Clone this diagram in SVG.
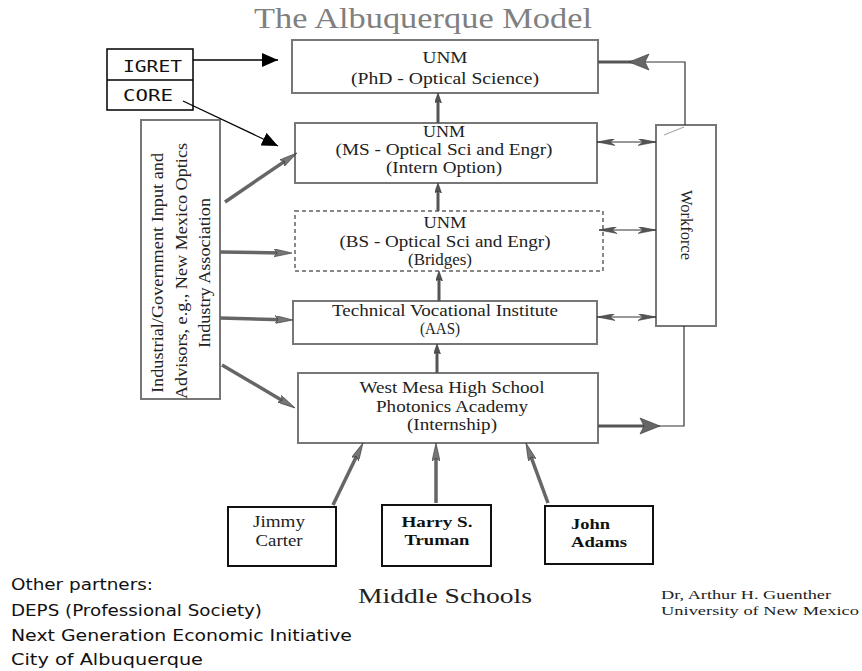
<svg xmlns="http://www.w3.org/2000/svg" width="862" height="671" viewBox="0 0 862 671">
<style>
.bx{fill:#fff;stroke:#777;stroke-width:2}
.ms{fill:#fff;stroke:#111;stroke-width:2}
.t{font-family:"Liberation Serif","Times New Roman",serif;font-size:16px;fill:#222;text-anchor:middle}
.tb{font-family:"Liberation Serif","Times New Roman",serif;font-size:15px;font-weight:bold;fill:#111}
.sans{font-family:"DejaVu Sans","Liberation Sans",sans-serif;font-size:15px;fill:#111}
.mono{font-family:"DejaVu Sans Mono","Liberation Mono",monospace;font-size:15px;fill:#111}
.blk{stroke:#666;stroke-width:3.5;fill:none}
.vt{stroke:#555;stroke-width:3;fill:none}
.dbl{stroke:#333;stroke-width:1;fill:none}
.thin{stroke:#333;stroke-width:1.2;fill:none}
.thk{stroke:#555;stroke-width:3;fill:none}
.au{font-family:"Liberation Serif","Times New Roman",serif;font-size:13.5px;fill:#222}
</style>
<defs>
<marker id="blkh" markerUnits="userSpaceOnUse" viewBox="0 0 18 8" markerWidth="18" markerHeight="8" refX="8" refY="4" orient="auto">
<path d="M0,0 L18,4 L0,8 L3,4 z" fill="#777" stroke="#333" stroke-width="0.6"/>
</marker>
<marker id="vh" markerUnits="userSpaceOnUse" viewBox="0 0 10 7" markerWidth="10" markerHeight="7" refX="4" refY="3.5" orient="auto">
<path d="M0,0 L10,3.5 L0,7 L2,3.5 z" fill="#555" stroke="#222" stroke-width="0.5"/>
</marker>
<marker id="barb" markerUnits="userSpaceOnUse" viewBox="0 0 18 7" markerWidth="18" markerHeight="7" refX="18" refY="3.5" orient="auto-start-reverse">
<path d="M0,0 L18,3.5 L0,7 L5,3.5 z" fill="#555" stroke="#333" stroke-width="0.5"/>
</marker>
<marker id="bh" markerUnits="userSpaceOnUse" viewBox="0 0 16 14" markerWidth="16" markerHeight="14" refX="16" refY="7" orient="auto">
<path d="M0,0 L16,7 L0,14 z" fill="#000"/>
</marker>
</defs>

<text x="423" y="28" font-family="Liberation Serif,Times New Roman,serif" font-size="29" fill="#808080" text-anchor="middle" textLength="338" lengthAdjust="spacingAndGlyphs">The Albuquerque Model</text>

<g id="igret-core">
<rect x="107" y="49" width="86" height="61" fill="#fff" stroke="#000" stroke-width="1.5"/>
<line x1="107" y1="80" x2="193" y2="80" stroke="#000" stroke-width="1.5"/>
<text class="mono" x="123" y="72" textLength="59" lengthAdjust="spacingAndGlyphs">IGRET</text>
<text class="mono" x="123" y="101" textLength="50" lengthAdjust="spacingAndGlyphs">CORE</text>
</g>

<g id="phd">
<rect class="bx" x="292" y="40" width="306" height="53"/>
<text class="t" x="445" y="63" textLength="45" lengthAdjust="spacingAndGlyphs">UNM</text>
<text class="t" x="445" y="84" textLength="188" lengthAdjust="spacingAndGlyphs">(PhD - Optical Science)</text>
</g>

<g id="ms">
<rect class="bx" x="295" y="123" width="302" height="60"/>
<text class="t" x="444" y="137" textLength="42" lengthAdjust="spacingAndGlyphs">UNM</text>
<text class="t" x="444" y="155" textLength="217" lengthAdjust="spacingAndGlyphs">(MS - Optical Sci and Engr)</text>
<text class="t" x="444" y="173" textLength="116" lengthAdjust="spacingAndGlyphs">(Intern Option)</text>
</g>

<g id="bs">
<rect x="295" y="211" width="308" height="60" fill="#fff" stroke="#888" stroke-width="2" stroke-dasharray="4,3"/>
<text class="t" x="445" y="228" textLength="43" lengthAdjust="spacingAndGlyphs">UNM</text>
<text class="t" x="445" y="247" textLength="211" lengthAdjust="spacingAndGlyphs">(BS - Optical Sci and Engr)</text>
<text class="t" x="440" y="265" textLength="64" lengthAdjust="spacingAndGlyphs">(Bridges)</text>
</g>

<g id="tvi">
<rect class="bx" x="293" y="301" width="304" height="43"/>
<text class="t" x="445" y="316" textLength="226" lengthAdjust="spacingAndGlyphs">Technical Vocational Institute</text>
<text class="t" x="440" y="334" textLength="40" lengthAdjust="spacingAndGlyphs">(AAS)</text>
</g>

<g id="westmesa">
<rect class="bx" x="298" y="373" width="300" height="70"/>
<text class="t" x="452" y="393" textLength="185" lengthAdjust="spacingAndGlyphs">West Mesa High School</text>
<text class="t" x="452" y="412" textLength="152" lengthAdjust="spacingAndGlyphs">Photonics Academy</text>
<text class="t" x="452" y="430" textLength="90" lengthAdjust="spacingAndGlyphs">(Internship)</text>
</g>

<g id="industrial">
<rect class="bx" x="141" y="120" width="79" height="279"/>
<text class="t" transform="translate(163,273) rotate(-90)" textLength="240" lengthAdjust="spacingAndGlyphs">Industrial/Government Input and</text>
<text class="t" transform="translate(187,271) rotate(-90)" textLength="256" lengthAdjust="spacingAndGlyphs">Advisors, e.g., New Mexico Optics</text>
<text class="t" transform="translate(210,273) rotate(-90)" textLength="150" lengthAdjust="spacingAndGlyphs">Industry Association</text>
</g>

<g id="workforce">
<rect class="bx" x="656" y="125" width="60" height="201"/>
<line x1="664" y1="135" x2="684" y2="127" stroke="#aaa" stroke-width="1.2"/>
<text class="t" transform="translate(681,225) rotate(90)" font-size="15" textLength="70" lengthAdjust="spacingAndGlyphs">Workforce</text>
</g>

<g id="carter">
<rect class="ms" x="228" y="507" width="108" height="59"/>
<text class="t" x="279" y="527" font-size="15" textLength="52" lengthAdjust="spacingAndGlyphs">Jimmy</text>
<text class="t" x="279" y="546" font-size="15" textLength="47" lengthAdjust="spacingAndGlyphs">Carter</text>
</g>

<g id="truman">
<rect class="ms" x="382" y="505" width="109" height="61"/>
<text class="tb" x="437" y="527" text-anchor="middle" textLength="71" lengthAdjust="spacingAndGlyphs">Harry S.</text>
<text class="tb" x="437" y="545" text-anchor="middle" textLength="65" lengthAdjust="spacingAndGlyphs">Truman</text>
</g>

<g id="adams">
<rect class="ms" x="545" y="506" width="108" height="58"/>
<text class="tb" x="571" y="529" textLength="39" lengthAdjust="spacingAndGlyphs">John</text>
<text class="tb" x="571" y="547" textLength="56" lengthAdjust="spacingAndGlyphs">Adams</text>
</g>

<g id="connectors">
<line x1="193" y1="60" x2="278" y2="60" stroke="#000" stroke-width="1.3" marker-end="url(#bh)"/>
<line x1="183" y1="101" x2="278" y2="146" stroke="#000" stroke-width="1.3" marker-end="url(#bh)"/>

<line class="blk" x1="225" y1="202" x2="288.7" y2="158.6" marker-end="url(#blkh)"/>
<line class="blk" x1="220" y1="252" x2="282" y2="252.9" marker-end="url(#blkh)"/>
<line class="blk" x1="220" y1="318" x2="283" y2="319.7" marker-end="url(#blkh)"/>
<line class="blk" x1="222" y1="365" x2="286.4" y2="402.9" marker-end="url(#blkh)"/>

<line class="blk" x1="333" y1="505" x2="358.6" y2="452" marker-end="url(#blkh)"/>
<line class="blk" x1="436" y1="503" x2="436" y2="453" marker-end="url(#blkh)"/>
<line class="blk" x1="548" y1="503" x2="529.4" y2="452.4" marker-end="url(#blkh)"/>

<line class="vt" x1="438" y1="123" x2="438" y2="99" marker-end="url(#vh)"/>
<line class="vt" x1="438" y1="211" x2="438" y2="189" marker-end="url(#vh)"/>
<line class="vt" x1="439" y1="301" x2="439" y2="277" marker-end="url(#vh)"/>
<line class="vt" x1="437" y1="373" x2="437" y2="350" marker-end="url(#vh)"/>

<line class="dbl" x1="597" y1="142" x2="656" y2="142" marker-start="url(#barb)" marker-end="url(#barb)"/>
<line class="dbl" x1="599" y1="230" x2="656" y2="230" marker-start="url(#barb)" marker-end="url(#barb)"/>
<line class="dbl" x1="597" y1="317" x2="656" y2="317" marker-start="url(#barb)" marker-end="url(#barb)"/>

<path class="thin" d="M685,125 V62 H642"/>
<path class="thk" d="M598,62 H636"/>
<polygon points="629,62 649,54 645,62 649,70" fill="#666" stroke="#333" stroke-width="0.6"/>

<path class="thk" d="M598,426 H650"/>
<path class="thin" d="M648,426 H684 V326"/>
<polygon points="660,426 640,418 644,426 640,434" fill="#666" stroke="#333" stroke-width="0.6"/>
</g>

<text x="445" y="603" font-family="Liberation Serif,Times New Roman,serif" font-size="22" fill="#222" text-anchor="middle" textLength="174" lengthAdjust="spacingAndGlyphs">Middle Schools</text>

<g id="partners">
<text class="sans" x="11" y="590" textLength="142" lengthAdjust="spacingAndGlyphs">Other partners:</text>
<text class="sans" x="11" y="616" textLength="251" lengthAdjust="spacingAndGlyphs">DEPS (Professional Society)</text>
<text class="sans" x="11" y="641" textLength="341" lengthAdjust="spacingAndGlyphs">Next Generation Economic Initiative</text>
<text class="sans" x="11" y="665" textLength="192" lengthAdjust="spacingAndGlyphs">City of Albuquerque</text>
</g>

<g id="author">
<text class="au" x="661" y="599" textLength="170" lengthAdjust="spacingAndGlyphs">Dr, Arthur H. Guenther</text>
<text class="au" x="661" y="615" textLength="198" lengthAdjust="spacingAndGlyphs">University of New Mexico</text>
</g>
</svg>
